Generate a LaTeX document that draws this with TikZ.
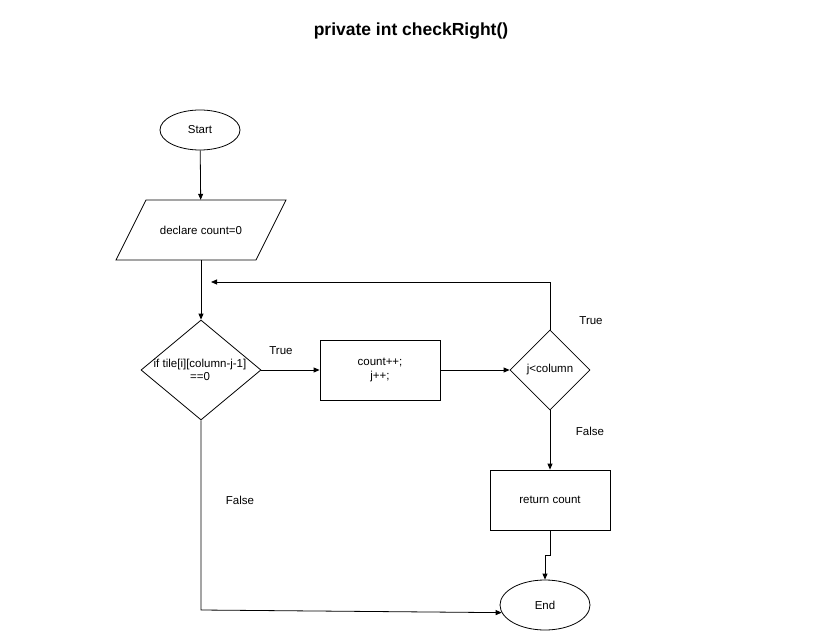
\documentclass[tikz,border=0pt]{standalone}
\usepackage{fontspec}
\setmainfont{Liberation Sans}
\usetikzlibrary{shapes.geometric,arrows.meta}
\begin{document}
\begin{tikzpicture}[x=1pt,y=-1pt,
  every node/.style={font=\fontsize{11.5}{13.5}\selectfont},
  box/.style={draw,line width=0.8pt,minimum width=120pt,minimum height=60pt,inner sep=0pt,align=center},
  term/.style={draw,line width=0.8pt,ellipse,inner sep=0pt},
  dec/.style={draw,line width=0.8pt,diamond,inner sep=0pt,align=center},
  lbl/.style={inner sep=0pt},
  conn/.style={draw,line width=0.8pt,-{Triangle[length=6pt,width=5pt]}}]
\useasboundingbox (0,0) rectangle (821,631);
\node[font=\fontsize{17.5}{20}\selectfont\bfseries] (title) at (411,31) {private int checkRight()};
\node[term,minimum width=80pt,minimum height=40pt] (start) at (200,130) {Start};
\draw[line width=0.8pt] (146,200) -- (286,200) -- (256,260) -- (116,260) -- cycle;
\node[minimum width=140pt,minimum height=60pt,inner sep=0pt] (decl) at (201,230) {declare count=0};
\node[dec,minimum width=120pt,minimum height=100pt,diamond,aspect=1.2] (d1) at (201,370) {};
\node[lbl,align=center] (d1t) at (200,370) {if tile[i][column-j-1]\\==0};
\node[box] (cnt) at (380,370) {count++;\\j++;};
\node[dec,minimum width=80pt,minimum height=80pt] (d2) at (550,370) {j<column};
\node[box] (ret) at (550,500) {return count};
\node[term,minimum width=90pt,minimum height=50pt] (end) at (545,605) {End};
\coordinate (loopin) at (211,282);
\coordinate (ltop) at (550,282);
\coordinate (bl) at (201,610);
\coordinate (r1) at (550,555);
\coordinate (r2) at (545,555);
\node[lbl] (t1) at (281,351) {True};
\node[lbl] (t2) at (591,321) {True};
\node[lbl] (f1) at (590,431) {False};
\node[lbl] (f2) at (240,500) {False};
\path[conn] (start) -- (decl);
\path[conn] (decl) -- (d1);
\path[conn] (d1) -- (cnt);
\path[conn] (cnt) -- (d2);
\path[conn] (d2.north) -- (ltop) -- (loopin);
\path[conn] (d2) -- (ret);
\path[conn] (ret.south) -- (r1) -- (r2) -- (end.north);
\path[conn] (d1.south) -- (bl) -- (end.190);
\end{tikzpicture}
\end{document}
